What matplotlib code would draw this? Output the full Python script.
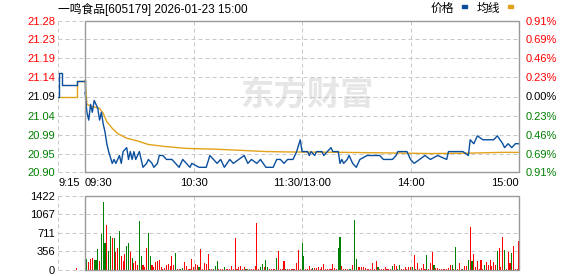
import numpy as np
import matplotlib.pyplot as plt
from matplotlib.patches import Rectangle

plt.rcParams['font.family'] = ['Liberation Sans', 'Noto Sans CJK SC', 'DejaVu Sans']

title = "一鸣食品[605179] 2026-01-23 15:00"
prev_close = 21.09
pct_steps = [0.91, 0.69, 0.46, 0.23, 0.00, -0.23, -0.46, -0.69, -0.91]
price_labels = ["21.28", "21.23", "21.19", "21.14", "21.09", "21.04", "20.99", "20.95", "20.90"]
pct_labels = ["0.91%", "0.69%", "0.46%", "0.23%", "0.00%", "0.23%", "0.46%", "0.69%", "0.91%"]
vol_ticks = [0, 356, 711, 1067, 1422]
xtick_pos = [-15, 0, 60, 120, 180, 240]
xtick_labels = ["9:15", "09:30", "10:30", "11:30/13:00", "14:00", "15:00"]

# pre-market auction (minutes before 9:30)
pre_min = [-15, -14.5, -13, -4.5, 0]
pre_price = [21.09, 21.15, 21.12, 21.13, 21.13]
pre_avg_min = [-15, -4.5, 0]
pre_avg = [21.09, 21.13, 21.13]
pre_vol_min = [-5]
pre_vol = [45]

# trading minutes from 9:30 (0..240, lunch break removed)
price_min = [0, 1, 2, 3, 4, 5, 6, 7, 8, 9, 10, 11, 12, 13, 15, 16, 17, 18, 19, 20,
             21, 23, 24, 25, 26, 27, 28, 30, 31, 32, 34, 35, 37, 38, 40, 41, 43, 45, 48, 50,
             52, 53, 54, 56, 58, 59, 63, 67, 69, 71, 73, 75, 77, 80, 82, 85, 88, 90, 92, 95,
             97, 100, 104, 106, 108, 110, 112, 115, 117, 119, 120, 121, 123, 124, 125, 127, 128, 131, 132, 134,
             136, 137, 140, 141, 142, 143, 145, 146, 148, 150, 152, 156, 163, 165, 170, 172, 173, 176, 178, 180,
             182, 185, 188, 191, 195, 200, 201, 206, 209, 212, 213, 215, 217, 220, 226, 228, 231, 232, 234, 236,
             238, 240]
price = [21.10, 21.05, 21.03, 21.07, 21.05, 21.08, 21.07, 21.06, 21.03, 21.05, 21.02, 21.00, 20.97, 20.95, 20.92, 20.93, 20.92, 20.93, 20.94, 20.92,
         20.95, 20.96, 20.93, 20.95, 20.93, 20.95, 20.93, 20.95, 20.93, 20.91, 20.92, 20.93, 20.92, 20.91, 20.92, 20.94, 20.94, 20.93, 20.93, 20.92,
         20.91, 20.92, 20.93, 20.92, 20.91, 20.92, 20.91, 20.91, 20.94, 20.93, 20.92, 20.93, 20.91, 20.93, 20.92, 20.93, 20.94, 20.92, 20.93, 20.92,
         20.93, 20.91, 20.91, 20.93, 20.93, 20.92, 20.93, 20.93, 20.95, 20.98, 20.95, 20.95, 20.95, 20.94, 20.95, 20.94, 20.95, 20.95, 20.94, 20.95,
         20.96, 20.95, 20.95, 20.92, 20.93, 20.92, 20.93, 20.94, 20.92, 20.91, 20.93, 20.94, 20.94, 20.93, 20.93, 20.94, 20.95, 20.95, 20.95, 20.93,
         20.92, 20.93, 20.94, 20.93, 20.94, 20.93, 20.95, 20.95, 20.95, 20.94, 20.98, 20.97, 20.99, 20.98, 20.98, 20.99, 20.97, 20.96, 20.97, 20.96,
         20.97, 20.97]

avg_min = [0, 1, 4, 8, 10, 12, 15, 18, 23, 29, 35, 44, 56, 72, 82, 100, 113, 143, 177, 191, 212, 231, 240]
avg_price = [21.13, 21.07, 21.064, 21.06, 21.047, 21.026, 21.009, 20.996, 20.984, 20.977, 20.968, 20.963,
             20.958, 20.956, 20.954, 20.950, 20.949, 20.948, 20.946, 20.945, 20.946, 20.948, 20.948]

# minute volume, morning (9:30 .. ) and afternoon ( .. 15:00)
vol_am = [461, 211, 160, 211, 230, 192, 192, 397, 180, 691,
          1306, 525, 864, 371, 653, 621, 614, 352, 422, 749,
          269, 179, 307, 461, 525, 352, 230, 141, 179, 96,
          941, 269, 96, 64, 422, 717, 269, 96, 64, 160,
          179, 192, 51, 26, 45, 96, 115, 77, 269, 96,
          333, 26, 26, 26, 32, 160, 77, 26, 26, 211,
          51, 115, 96, 51, 397, 26, 141, 115, 301, 26,
          26, 26, 77, 173, 26, 26, 26, 51, 26, 26,
          26, 77, 26, 608, 26, 51, 77, 26, 51, 26,
          26, 26, 26, 26, 77, 909, 26, 51, 115, 64,
          192, 51, 26, 26, 26, 26, 224, 365, 26, 26,
          173, 26]
dir_am = ("dduuudddud" "ddudduduud" "uuudduduuu" "dduuudduuu" "uuuuuuuuuu"
          "duudduuuuu" "uuuduuuuud" "uddduuuduu" "uuuuuuuuud" "uduuuuuddu"
          "dduuuuduuu" "ud")
vol_pm = [19, 19, 19, 19, 19, 141, 384, 13, 525, 269, 13, 13, 77, 13,
          32, 38, 38, 51, 13, 51, 115, 13,
          13, 13, 26, 115, 38, 13, 422, 634, 77, 13, 13, 13, 13, 13, 90, 960, 211, 64, 51, 51, 64, 38, 13,
          13, 13, 141, 13, 179, 51, 13,
          13, 13, 51, 13, 13, 13,
          77, 115, 77, 13, 96, 13, 13,
          51, 13, 51, 51, 51, 288, 13, 141, 13, 38, 115, 13,
          288, 13, 128, 346, 96, 38, 38, 26, 13,
          13, 13, 13, 38, 96, 96, 13, 442, 13, 141, 26, 13, 77, 77, 192, 826, 179, 314, 64, 179, 13, 192, 13,
          96, 160, 96, 192, 77, 160, 90, 365, 422, 51, 634, 384, 26,
          352, 141, 326, 461, 26,
          13, 557]
dir_pm = ("uuuuuuuudduuu" "u" "duuuuuu" "u" "uuuuuudduuuuddudduuuuu" "u"
          "uuuuud" "u" "uuuuu" "u" "duuddu" "u" "uuuududuuuu" "u" "duuuduuu" "u"
          "uuuuududuuuduudud" "uuuuu" "u" "duuuuuuduuud" "u" "uudu" "u" "uu")

vol = vol_am + vol_pm
vol_dir = dir_am + dir_pm
assert len(vol) == len(vol_dir) == 241
vol_min = np.arange(len(vol))

blue = '#0a4f9e'
orange = '#e1a21a'
up_c = '#ff0000'
dn_c = '#008000'
grid_kw = dict(color='#c8c8c8', lw=0.72, dashes=(4, 3), zorder=1)
box_kw = dict(color='#999999', lw=1.0, zorder=5)

W, H = 578, 276
fig = plt.figure(figsize=(W / 100, H / 100), dpi=100)


def rect(x0, y0, x1, y1):
    return [x0 / W, 1 - y1 / H, (x1 - x0) / W, (y1 - y0) / H]


ax = fig.add_axes(rect(58, 21, 519, 172))
axv = fig.add_axes(rect(58, 196, 519, 270))

price_pos = [prev_close * (1 + p / 100) for p in pct_steps]
lo, hi = price_pos[-1], price_pos[0]

for a, ylo, yhi, yt in [(ax, lo, hi, price_pos), (axv, 0, vol_ticks[-1], vol_ticks)]:
    a.set_xlim(-15, 240)
    a.set_ylim(ylo, yhi)
    for s in a.spines.values():
        s.set_visible(False)
    for y in yt:
        a.plot([-15, 240], [y, y], clip_on=False, **grid_kw)
    for x in [-15, 60, 120, 180]:
        a.axvline(x, **grid_kw)
    a.plot([0, 240, 240, 0, 0], [ylo, ylo, yhi, yhi, ylo], clip_on=False, **box_kw)
    a.tick_params(length=0, pad=2, labelsize=8)

# watermark
ax.text(0.54, 0.5, "东方财富", transform=ax.transAxes, ha='center', va='center',
        fontsize=24, fontweight='bold', color='#e6e6e6', family=['Noto Sans CJK SC'], zorder=0.5)

# price + average
ax.plot(pre_avg_min, pre_avg, color=orange, lw=1, drawstyle='steps-post', zorder=3)
ax.plot(pre_min, pre_price, color=blue, lw=1, drawstyle='steps-post', zorder=4)
ax.plot([0, 0], [pre_price[-1], price[0]], color=blue, lw=1, zorder=4)
ax.plot(avg_min, avg_price, color=orange, lw=1, zorder=3)
ax.plot(price_min, price, color=blue, lw=1, zorder=4)

ax.set_yticks(price_pos, price_labels)
ax.set_xticks(xtick_pos, xtick_labels)
ax.tick_params(axis='x', pad=4)
xl = ax.get_xticklabels()
xl[0].set_ha('left')
xl[1].set_ha('left')
xl[-1].set_ha('right')

ax2 = ax.twinx()
ax2.set_ylim(lo, hi)
for s in ax2.spines.values():
    s.set_visible(False)
ax2.set_yticks(price_pos, pct_labels)
ax2.tick_params(length=0, pad=5, labelsize=8)

for labels in [ax.get_yticklabels(), ax2.get_yticklabels()]:
    for i, t in enumerate(labels):
        t.set_color(up_c if i < 4 else ('black' if i == 4 else dn_c))

# volume
colors = [up_c if d == 'u' else dn_c for d in vol_dir]
axv.bar(vol_min, vol, width=0.6, color=colors, zorder=3)
axv.bar(pre_vol_min, pre_vol, width=0.6, color=up_c, zorder=3)
axv.set_yticks(vol_ticks, [str(v) for v in vol_ticks])
axv.set_xticks([])

# title and legend
fig.text(58 / W, 1 - 9 / H, title, ha='left', va='center', fontsize=8.5)
fig.text(431 / W, 1 - 9 / H, "价格", ha='left', va='center', fontsize=8.5)
fig.add_artist(Rectangle((462 / W, 1 - 8 / H), 5 / W, 3 / H, color=blue, transform=fig.transFigure))
fig.text(477 / W, 1 - 9 / H, "均线", ha='left', va='center', fontsize=8.5)
fig.add_artist(Rectangle((508 / W, 1 - 8 / H), 5 / W, 3 / H, color=orange, transform=fig.transFigure))

fig.savefig("out.png", dpi=100)
